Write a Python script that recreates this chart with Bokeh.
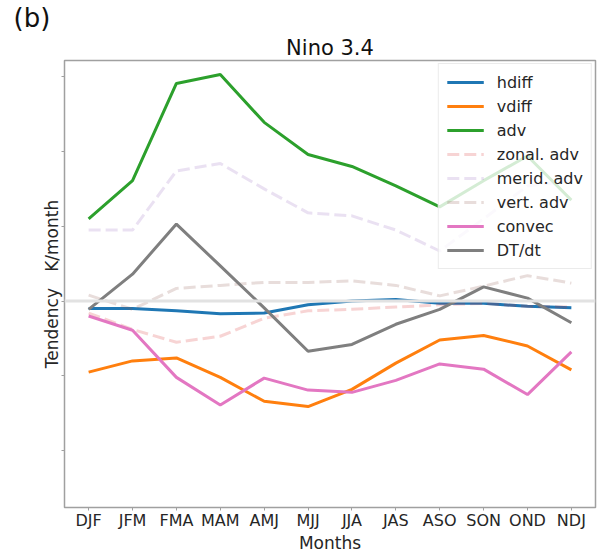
from bokeh.plotting import figure
from bokeh.models import Span, FixedTicker, Legend, LegendItem, Title
from bokeh.embed import file_html
from bokeh.resources import INLINE

months = ["DJF", "JFM", "FMA", "MAM", "AMJ", "MJJ", "JJA", "JAS", "ASO", "SON", "OND", "NDJ"]
hdiff = [-0.10, -0.10, -0.13, -0.17, -0.16, -0.05, 0.00, 0.02, -0.03, -0.03, -0.07, -0.09]
vdiff = [-0.95, -0.80, -0.76, -1.02, -1.34, -1.41, -1.18, -0.83, -0.52, -0.46, -0.60, -0.92]
adv = [1.10, 1.61, 2.91, 3.03, 2.39, 1.96, 1.80, 1.54, 1.26, 1.61, 1.94, 1.35]
zonal_adv = [-0.16, -0.38, -0.55, -0.47, -0.23, -0.13, -0.11, -0.08, -0.05, -0.03, -0.07, -0.08]
merid_adv = [0.95, 0.95, 1.74, 1.84, 1.50, 1.18, 1.14, 0.95, 0.67, 1.10, 1.54, 1.61]
vert_adv = [0.08, -0.11, 0.17, 0.21, 0.25, 0.25, 0.27, 0.21, 0.07, 0.20, 0.34, 0.24]
convec = [-0.20, -0.39, -1.02, -1.39, -1.03, -1.19, -1.22, -1.06, -0.84, -0.91, -1.25, -0.68]
dtdt = [-0.11, 0.36, 1.03, 0.47, -0.09, -0.67, -0.58, -0.31, -0.11, 0.19, 0.04, -0.29]
y_ticks = [-2, -1, 0, 1, 2, 3]

x = list(range(len(months)))
FONT = "DejaVu Sans"
TXT = "#262626"
SPINE = "#a0a0a0"

p = figure(width=597, height=555, output_backend="svg", toolbar_location=None,
           x_range=(-0.55, 11.55), y_range=(-2.76, 3.217), title=None)
p.min_border_left = 64
p.min_border_right = 2
p.min_border_top = 0
p.min_border_bottom = 47
p.background_fill_color = "white"
p.border_fill_color = "white"
p.grid.visible = False
p.outline_line_color = SPINE
p.outline_line_width = 1.5

t_main = Title(text="Nino 3.4", align="center", text_font=FONT, text_font_size="21px",
               text_font_style="normal", text_color="#111111", standoff=2,
               text_line_height=0.8)
t_panel = Title(text="(b)", align="left", offset=-51, text_font=FONT, text_font_size="26px",
                text_font_style="normal", text_color="#111111", standoff=0,
                text_line_height=0.8)
p.add_layout(t_main, "above")
p.add_layout(t_panel, "above")

p.xaxis.ticker = FixedTicker(ticks=x)
p.xaxis.major_label_overrides = {i: m for i, m in enumerate(months)}
p.xaxis.major_label_text_font = FONT
p.xaxis.major_label_text_font_size = "16px"
p.xaxis.major_label_text_color = TXT
p.xaxis.major_label_standoff = 0
p.xaxis.axis_label = "Months"
p.xaxis.axis_label_text_font = FONT
p.xaxis.axis_label_text_font_size = "17px"
p.xaxis.axis_label_text_font_style = "normal"
p.xaxis.axis_label_text_color = TXT
p.xaxis.axis_label_standoff = 0

p.yaxis.ticker = FixedTicker(ticks=y_ticks)
p.yaxis.major_label_overrides = {t: "" for t in y_ticks}
p.yaxis.major_label_standoff = 0
p.yaxis.axis_label = "Tendency\u00a0\u00a0\u00a0K/month"
p.yaxis.axis_label_text_font = FONT
p.yaxis.axis_label_text_font_size = "17px"
p.yaxis.axis_label_text_font_style = "normal"
p.yaxis.axis_label_text_color = TXT
p.yaxis.axis_label_standoff = 0

for ax in (p.xaxis, p.yaxis):
    ax.axis_line_color = None
    ax.major_tick_line_color = SPINE
    ax.major_tick_out = 3
    ax.major_tick_in = 0
    ax.minor_tick_line_color = None

p.add_layout(Span(location=0, dimension="width", line_color="#e2e2e2", line_width=3))

items = []
def add(label, ys, color, alpha=1.0, dash="solid"):
    r = p.line(x, ys, line_color=color, line_width=3, line_alpha=alpha, line_dash=dash)
    items.append(LegendItem(label=label, renderers=[r]))

add("hdiff", hdiff, "#1f77b4")
add("vdiff", vdiff, "#ff7f0e")
add("adv", adv, "#2ca02c")
add("zonal. adv", zonal_adv, "#d62728", 0.2, "12 5")
add("merid. adv", merid_adv, "#9467bd", 0.2, "12 5")
add("vert. adv", vert_adv, "#8c564b", 0.2, "12 5")
add("convec", convec, "#e377c2")
add("DT/dt", dtdt, "#7f7f7f")

legend = Legend(items=items, location="top_right")
legend.margin = 3
legend.padding = 8
legend.spacing = 4
legend.glyph_width = 37
legend.glyph_height = 20
legend.label_standoff = 13
legend.label_text_font = FONT
legend.label_text_font_size = "16px"
legend.label_text_color = TXT
legend.background_fill_color = "white"
legend.background_fill_alpha = 0.8
legend.border_line_color = "#d8d8d8"
legend.border_line_width = 1
p.add_layout(legend, "center")

open("out.html", "w").write(file_html(p, INLINE))
